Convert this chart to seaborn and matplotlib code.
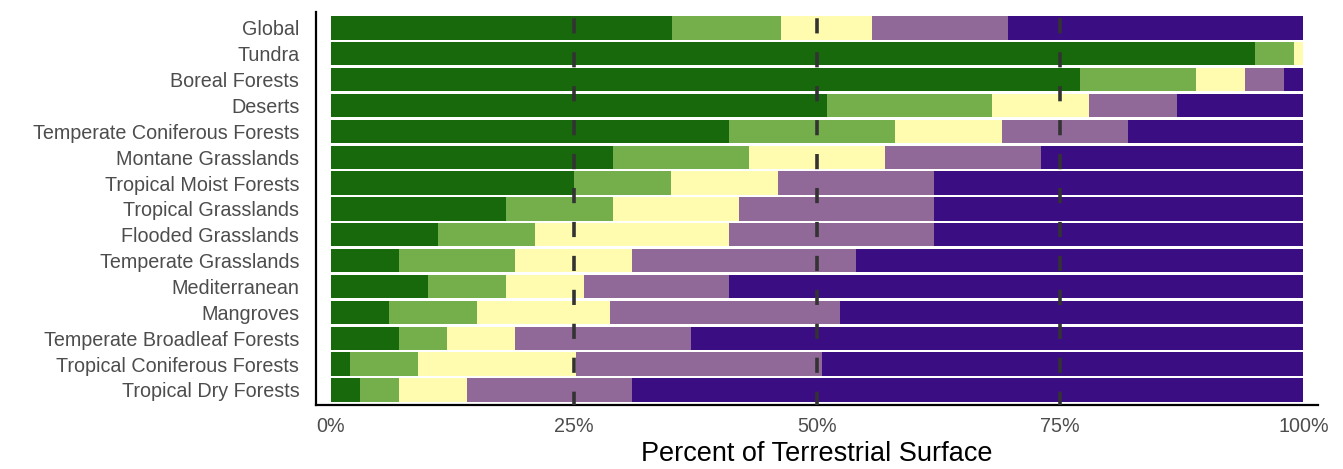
"""Stacked horizontal bars: share of terrestrial surface per biome."""

import matplotlib.pyplot as plt
import pandas as pd
import seaborn as sns

plt.switch_backend("Agg")

BIOMES = [
    "Global",
    "Tundra",
    "Boreal Forests",
    "Deserts",
    "Temperate Coniferous Forests",
    "Montane Grasslands",
    "Tropical Moist Forests",
    "Tropical Grasslands",
    "Flooded Grasslands",
    "Temperate Grasslands",
    "Mediterranean",
    "Mangroves",
    "Temperate Broadleaf Forests",
    "Tropical Coniferous Forests",
    "Tropical Dry Forests",
]

# percent of surface in each class, least to most impacted
class_1 = [35.1, 95, 77, 51, 41, 29, 25, 18, 11, 7, 10, 6, 7, 2, 3]
class_2 = [11.2, 4, 12, 17, 17, 14, 10, 11, 10, 12, 8, 9, 5, 7, 4]
class_3 = [9.4, 1, 5, 10, 11, 14, 11, 13, 20, 12, 8, 13.7, 7, 16.2, 7]
class_4 = [13.9, 0, 4, 9, 13, 16, 16, 20, 21, 23, 15, 23.7, 18, 25.3, 17]
class_5 = [30.4, 0, 2, 13, 18, 27, 38, 38, 38, 46, 59, 47.6, 63, 49.5, 69]

CLASS_COLORS = ["#18690C", "#74AF4B", "#FFFCB0", "#916999", "#3B0D83"]

X_TICKS = [0, 25, 50, 75, 100]
X_TICK_LABELS = ["0%", "25%", "50%", "75%", "100%"]
REF_LINES = [25, 50, 75]


def main() -> None:
    sns.set_style("white")
    plt.rcParams["font.family"] = ["Liberation Sans", "DejaVu Sans"]

    df = pd.DataFrame(
        {
            "biome": BIOMES,
            "c1": class_1,
            "c2": class_2,
            "c3": class_3,
            "c4": class_4,
            "c5": class_5,
        }
    )
    cols = ["c1", "c2", "c3", "c4", "c5"]
    cum = df[cols].cumsum(axis=1)

    fig = plt.figure(figsize=(13.43, 4.69), dpi=100)
    ax = fig.add_axes([0.2353, 0.1354, 0.7461, 0.838])

    # draw cumulative totals from the widest down so each segment shows
    for col, color in reversed(list(zip(cols, CLASS_COLORS))):
        sns.barplot(
            x=cum[col],
            y=df["biome"],
            order=BIOMES,
            color=color,
            saturation=1,
            width=0.9,
            orient="h",
            linewidth=0,
            edgecolor="none",
            ax=ax,
        )

    for x in REF_LINES:
        ax.axvline(
            x, color="#333333", lw=2.6, linestyle=(0.5, (4.2, 5.2)), zorder=5
        )

    ax.set_xlim(-1.5, 101.5)
    ax.set_ylim(len(BIOMES) - 0.4, -0.6)
    ax.set_xticks(X_TICKS)
    ax.set_xticklabels(X_TICK_LABELS)
    ax.set_ylabel("")
    ax.set_xlabel("Percent of Terrestrial Surface", fontsize=19.5, color="black")

    ax.tick_params(axis="y", length=0, pad=12, labelsize=14.2, labelcolor="#4D4D4D")
    ax.tick_params(
        axis="x",
        length=4,
        width=1.2,
        color="#333333",
        pad=4,
        labelsize=14.2,
        labelcolor="#4D4D4D",
    )
    for side in ["top", "right"]:
        ax.spines[side].set_visible(False)
    for side in ["left", "bottom"]:
        ax.spines[side].set_color("black")
        ax.spines[side].set_linewidth(1.6)

    fig.savefig("out.png", dpi=100)
    plt.close(fig)


if __name__ == "__main__":
    main()
